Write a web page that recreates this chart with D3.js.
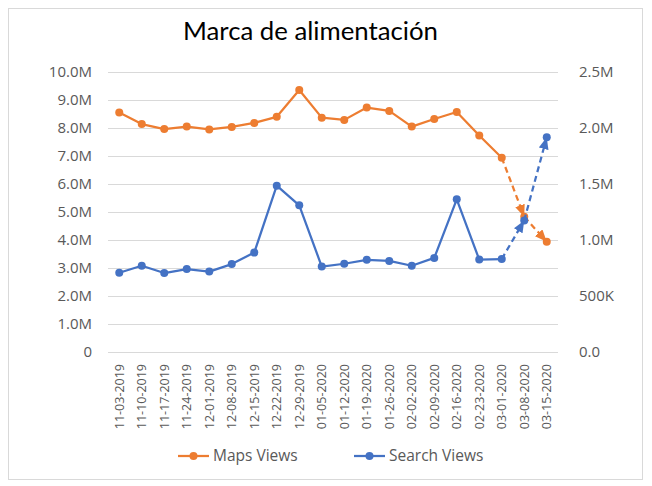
<!DOCTYPE html>
<html>
<head>
<meta charset="utf-8">
<script src="https://cdn.jsdelivr.net/npm/d3@7"></script>
<style>
  html, body { margin: 0; padding: 0; background: #fff; }
  svg { display: block; }
</style>
</head>
<body>
<div id="chart"></div>
<script>
// ---------- data ----------
const dates = ["11-03-2019","11-10-2019","11-17-2019","11-24-2019","12-01-2019","12-08-2019",
  "12-15-2019","12-22-2019","12-29-2019","01-05-2020","01-12-2020","01-19-2020","01-26-2020",
  "02-02-2020","02-09-2020","02-16-2020","02-23-2020","03-01-2020","03-08-2020","03-15-2020"];
const mapsViews = [8550000, 8140000, 7960000, 8050000, 7950000, 8040000, 8180000, 8400000, 9360000,
  8370000, 8290000, 8730000, 8610000, 8050000, 8320000, 8570000, 7730000, 6940000, 4830000, 3940000];
const searchViews = [708000, 770000, 705000, 740000, 718000, 785000, 888000, 1485000, 1310000,
  763000, 788000, 823000, 813000, 770000, 840000, 1363000, 825000, 830000, 1175000, 1918000];
const projectedFromIndex = 17; // segments after this date are projections (dashed)
const leftTicks = [0, 1e6, 2e6, 3e6, 4e6, 5e6, 6e6, 7e6, 8e6, 9e6, 10e6];
const leftTickLabels = ["0","1.0M","2.0M","3.0M","4.0M","5.0M","6.0M","7.0M","8.0M","9.0M","10.0M"];
const rightTicks = [0, 5e5, 1e6, 1.5e6, 2e6, 2.5e6];
const rightTickLabels = ["0.0","500K","1.0M","1.5M","2.0M","2.5M"];
const seriesNames = ["Maps Views", "Search Views"];

// ---------- layout ----------
const W = 652, H = 486;
const plot = { left: 108, right: 558, top: 72, bottom: 352 };
const colors = { maps: "#ED7D31", search: "#4472C4", grid: "#D9D9D9", text: "#595959" };
const font = "'Open Sans', 'Liberation Sans', sans-serif";

const svg = d3.select("#chart").append("svg").attr("width", W).attr("height", H);

svg.append("rect").attr("x", 8.5).attr("y", 8.5).attr("width", 634).attr("height", 471)
  .attr("fill", "#fff").attr("stroke", colors.grid).attr("stroke-width", 1);

// title
svg.append("text").attr("x", 310.5).attr("y", 40).attr("text-anchor", "middle")
  .attr("font-family", "Lato, 'Open Sans', sans-serif").attr("font-size", 25)
  .attr("textLength", 255).attr("lengthAdjust", "spacingAndGlyphs")
  .attr("fill", "#000").text("Marca de alimentación");

const x = d3.scaleBand().domain(dates).range([plot.left, plot.right]);
const y = d3.scaleLinear().domain([0, 10e6]).range([plot.bottom, plot.top]);
const y2 = d3.scaleLinear().domain([0, 2.5e6]).range([plot.bottom, plot.top]);
const cx = d => x(d) + x.bandwidth() / 2;

// gridlines
const grid = svg.append("g").attr("transform", `translate(${plot.left},0)`)
  .call(d3.axisLeft(y).tickValues(leftTicks).tickSize(-(plot.right - plot.left)).tickFormat(""));
grid.select(".domain").remove();
grid.selectAll("line").attr("stroke", colors.grid).attr("stroke-width", 1);

// left axis
const la = svg.append("g").attr("transform", `translate(${plot.left},0)`)
  .call(d3.axisLeft(y).tickValues(leftTicks).tickSize(0).tickPadding(16)
    .tickFormat((d, i) => leftTickLabels[i]));
la.select(".domain").remove();
la.selectAll("text").attr("font-family", font).attr("font-size", 15).attr("fill", colors.text);

// right axis
const ra = svg.append("g").attr("transform", `translate(${plot.right},0)`)
  .call(d3.axisRight(y2).tickValues(rightTicks).tickSize(0).tickPadding(21)
    .tickFormat((d, i) => rightTickLabels[i]));
ra.select(".domain").remove();
ra.selectAll("text").attr("font-family", font).attr("font-size", 15).attr("fill", colors.text);

// bottom axis
const ba = svg.append("g").attr("transform", `translate(0,${plot.bottom})`)
  .call(d3.axisBottom(x).tickSize(0).tickPadding(0));
ba.select(".domain").remove();
ba.selectAll("text").attr("font-family", font).attr("font-size", 12.5).attr("fill", colors.text)
  .attr("text-anchor", "end").attr("transform", "translate(0,12) rotate(-90)")
  .attr("dy", "0.35em").attr("dx", 0).attr("y", 0).attr("x", 0);

// arrow markers
const defs = svg.append("defs");
[["maps", colors.maps], ["search", colors.search]].forEach(([k, c]) => {
  defs.append("marker").attr("id", "arrow-" + k).attr("markerUnits", "userSpaceOnUse")
    .attr("markerWidth", 13).attr("markerHeight", 10).attr("refX", 12).attr("refY", 5)
    .attr("orient", "auto").attr("viewBox", "0 0 13 10")
    .append("path").attr("d", "M0,0 L12,5 L0,10 Z").attr("fill", c);
});

function drawSeries(values, scale, color, key) {
  const pts = values.map((v, i) => [cx(dates[i]), scale(v)]);
  const line = d3.line();
  const g = svg.append("g");
  g.append("path").attr("d", line(pts.slice(0, projectedFromIndex + 1)))
    .attr("fill", "none").attr("stroke", color).attr("stroke-width", 2.25)
    .attr("stroke-linejoin", "round");
  for (let i = projectedFromIndex; i < pts.length - 1; i++) {
    g.append("path").attr("d", line([pts[i], pts[i + 1]]))
      .attr("fill", "none").attr("stroke", color).attr("stroke-width", 2.25)
      .attr("stroke-dasharray", "6,4").attr("marker-end", `url(#arrow-${key})`);
  }
  g.selectAll("circle").data(pts).join("circle")
    .attr("cx", d => d[0]).attr("cy", d => d[1]).attr("r", 4).attr("fill", color);
}
drawSeries(mapsViews, y, colors.maps, "maps");
drawSeries(searchViews, y2, colors.search, "search");

// legend
const legend = [
  { name: seriesNames[0], color: colors.maps, x0: 178 },
  { name: seriesNames[1], color: colors.search, x0: 354 }
];
legend.forEach(l => {
  const g = svg.append("g");
  g.append("line").attr("x1", l.x0).attr("x2", l.x0 + 31).attr("y1", 456).attr("y2", 456)
    .attr("stroke", l.color).attr("stroke-width", 2.25);
  g.append("circle").attr("cx", l.x0 + 15.5).attr("cy", 456).attr("r", 4).attr("fill", l.color);
  g.append("text").attr("x", l.x0 + 35).attr("y", 456).attr("dy", "0.35em")
    .attr("font-family", font).attr("font-size", 15.5).attr("fill", colors.text).text(l.name);
});
</script>
</body>
</html>
